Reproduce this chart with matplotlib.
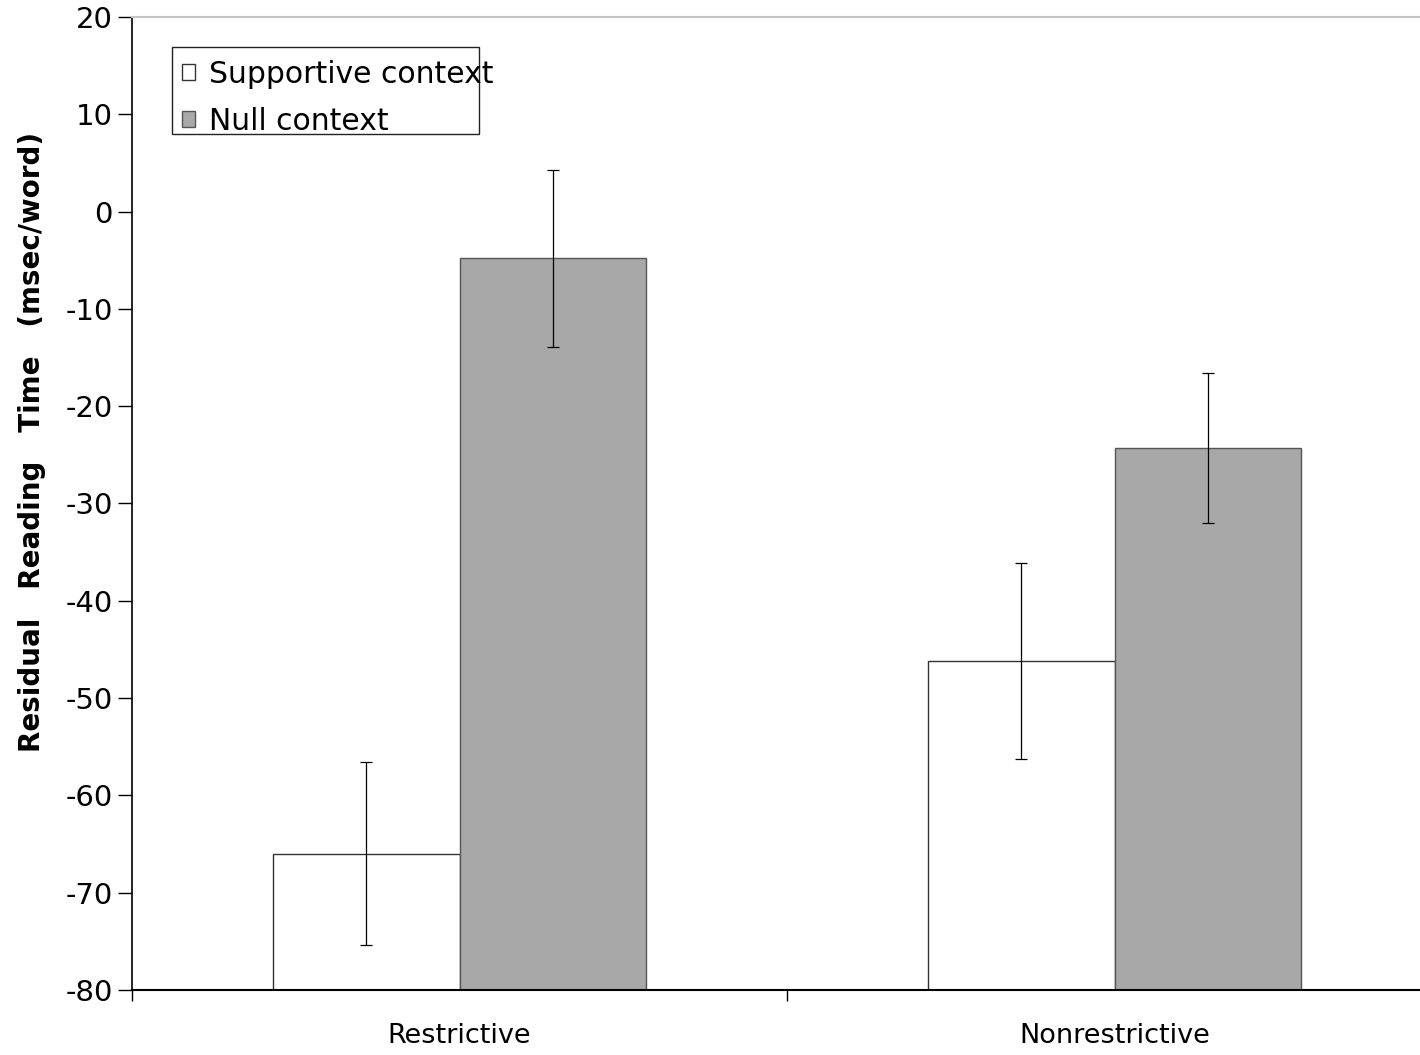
import matplotlib
matplotlib.use("Agg")
import matplotlib.pyplot as plt
from matplotlib.patches import Rectangle
import numpy as np

categories = ["Restrictive", "Nonrestrictive"]
series_names = ["Supportive context", "Null context"]
supportive = [-66.0, -46.2]
supportive_err = [9.4, 10.1]
null = [-4.8, -24.3]
null_err = [9.1, 7.7]
yticks = [20, 10, 0, -10, -20, -30, -40, -50, -60, -70, -80]

plt.rcParams['font.family'] = ['DejaVu Sans']

fig = plt.figure(figsize=(14.2, 10.55), dpi=100)
ax = fig.add_axes([132/1420, 1-990/1055, 1310/1420, (990-17)/1055])

ymin, ymax = -80, 20
x = np.arange(len(categories))
w = 0.284
sup = np.array(supportive)
nul = np.array(null)
ax.bar(x - w/2, sup - ymin, width=w, bottom=ymin, color='white', edgecolor='#333333', linewidth=1.0,
       label=series_names[0], zorder=2)
ax.bar(x + w/2, nul - ymin, width=w, bottom=ymin, color='#a8a8a8', edgecolor='#555555', linewidth=1.0,
       label=series_names[1], zorder=2)
ax.errorbar(x - w/2, sup, yerr=supportive_err, fmt='none', ecolor='black',
            elinewidth=0.9, capsize=4.5, capthick=0.9, zorder=3)
ax.errorbar(x + w/2, nul, yerr=null_err, fmt='none', ecolor='black',
            elinewidth=0.9, capsize=4.5, capthick=0.9, zorder=3)

ax.set_xlim(-0.5, 1.5)
ax.set_ylim(ymin, ymax)
ax.set_yticks(yticks)
ax.set_yticklabels([str(t) for t in yticks], fontsize=21)
ax.set_xticks([-0.5, 0.5, 1.5])
ax.set_xticklabels([])
ax.set_xticks(x, minor=True)
ax.set_xticklabels(categories, minor=True, fontsize=19.5)
ax.tick_params(axis='x', which='minor', length=0, pad=24)
ax.tick_params(axis='x', which='major', length=8, direction='out', width=1)
ax.tick_params(axis='y', length=10, direction='out', width=1, pad=4)

ax.spines['right'].set_visible(False)
ax.spines['top'].set_color('#c4c4c4')
ax.spines['top'].set_linewidth(1.5)
ax.spines['left'].set_linewidth(1.2)
ax.spines['bottom'].set_linewidth(1.5)

ax.set_ylabel("Residual   Reading   Time   (msec/word)", fontsize=20, fontweight='bold')
ax.yaxis.set_label_coords((46-132)/1310, (990-442)/973)

# legend frame drawn separately (text overflows frame in the reference)
ax.add_patch(Rectangle(((172-132)/1310, (990-134)/973), (479-172)/1310, (134-47)/973,
                       transform=ax.transAxes, facecolor='white', edgecolor='#222222',
                       linewidth=1.0, zorder=4))
leg = ax.legend(loc='upper left', bbox_to_anchor=((182-132)/1310, (990-60)/973),
                fontsize=21.5, frameon=False,
                handlelength=0.45, handleheight=0.45, handletextpad=0.45,
                borderpad=0.0, labelspacing=0.6, borderaxespad=0)
leg.set_zorder(5)

fig.savefig("out.png", dpi=100)
